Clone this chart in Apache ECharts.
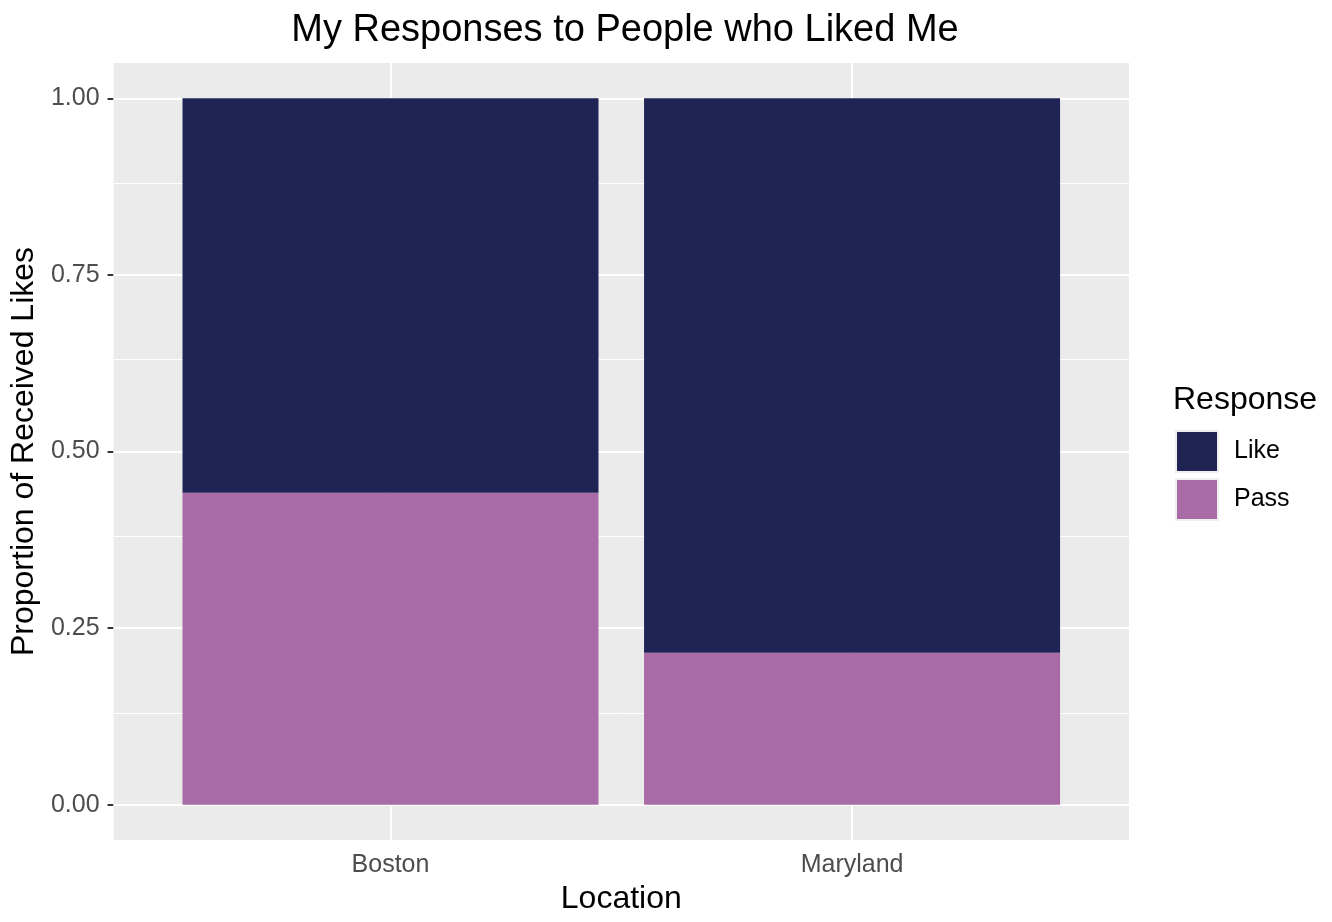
<!DOCTYPE html>
<html>
<head>
<meta charset="utf-8">
<script src="https://cdn.jsdelivr.net/npm/echarts@6/dist/echarts.min.js"></script>
<style>
html,body{margin:0;padding:0;background:#fff;}
#chart{width:1332px;height:922px;}
</style>
</head>
<body>
<div id="chart"></div>
<script>
const locations = ['Boston', 'Maryland'];
const responses = ['Like', 'Pass'];
const passShare = [0.4416, 0.2151];
const likeShare = [0.5584, 0.7849];
const yMajorTicks = [0, 0.25, 0.5, 0.75, 1];
const yMinorTicks = [0.125, 0.375, 0.625, 0.875];
const xPositions = [1, 2];

const colors = { Like: '#1F2454', Pass: '#A96BA6' };
const FONT = 'Liberation Sans, Arial, Helvetica, sans-serif';

const chart = echarts.init(document.getElementById('chart'));

const gridLines = [];
yMinorTicks.forEach(v => gridLines.push({ yAxis: v, lineStyle: { width: 1 } }));
yMajorTicks.forEach(v => gridLines.push({ yAxis: v, lineStyle: { width: 2 } }));
xPositions.forEach(v => gridLines.push({ xAxis: v, lineStyle: { width: 2 } }));

const option = {
  animation: false,
  backgroundColor: '#ffffff',
  textStyle: { fontFamily: FONT },
  title: [
    {
      text: 'My Responses to People who Liked Me',
      left: 620, top: 7, textAlign: 'center',
      textStyle: { fontFamily: FONT, fontSize: 38, fontWeight: 'normal', color: '#000' }
    },
    {
      text: 'Response',
      left: 1168, top: 379,
      textStyle: { fontFamily: FONT, fontSize: 32, fontWeight: 'normal', color: '#000' }
    }
  ],
  legend: {
    data: responses,
    orient: 'vertical',
    left: 1170, top: 425,
    itemWidth: 42, itemHeight: 41, itemGap: 5,
    icon: 'rect',
    itemStyle: { borderColor: '#EFEFEF', borderWidth: 2 },
    textStyle: { fontFamily: FONT, fontSize: 25, color: '#000', padding: [0, 0, 0, 11] }
  },
  grid: {
    left: 113, top: 63, width: 1016, height: 777,
    show: true, backgroundColor: '#EBEBEB', borderWidth: 0,
    containLabel: false
  },
  xAxis: {
    type: 'value', min: 0.4, max: 2.6,
    name: 'Location', nameLocation: 'middle', nameGap: 42,
    nameTextStyle: { fontFamily: FONT, fontSize: 32, color: '#000' },
    axisLine: { show: false },
    splitLine: { show: false },
    axisTick: { show: true, customValues: xPositions, length: 6, lineStyle: { color: '#333', width: 2 } },
    axisLabel: {
      customValues: xPositions,
      formatter: v => locations[Math.round(v) - 1] || '',
      fontFamily: FONT, fontSize: 25, color: '#4D4D4D', margin: 13
    }
  },
  yAxis: {
    type: 'value', min: -0.05, max: 1.05,
    name: 'Proportion of Received Likes', nameLocation: 'middle', nameGap: 67,
    nameTextStyle: { fontFamily: FONT, fontSize: 32, color: '#000' },
    axisLine: { show: false },
    splitLine: { show: false },
    axisTick: { show: true, customValues: yMajorTicks, length: 6, lineStyle: { color: '#333', width: 2 } },
    axisLabel: {
      customValues: yMajorTicks,
      formatter: v => v.toFixed(2),
      fontFamily: FONT, fontSize: 25, color: '#4D4D4D', margin: 14
    }
  },
  series: [
    {
      name: 'gridlines', type: 'line', data: [], z: 1, silent: true,
      markLine: {
        silent: true, symbol: 'none', animation: false, z: 1,
        label: { show: false },
        lineStyle: { color: '#ffffff', type: 'solid' },
        data: gridLines
      }
    },
    {
      name: 'Pass', type: 'bar', stack: 'total', z: 3,
      barWidth: 416,
      encode: { x: 1, y: 0 },
      itemStyle: { color: colors.Pass },
      data: xPositions.map((x, i) => [passShare[i], x])
    },
    {
      name: 'Like', type: 'bar', stack: 'total', z: 3,
      barWidth: 416,
      encode: { x: 1, y: 0 },
      itemStyle: { color: colors.Like },
      data: xPositions.map((x, i) => [likeShare[i], x])
    }
  ]
};
chart.setOption(option);
</script>
</body>
</html>
